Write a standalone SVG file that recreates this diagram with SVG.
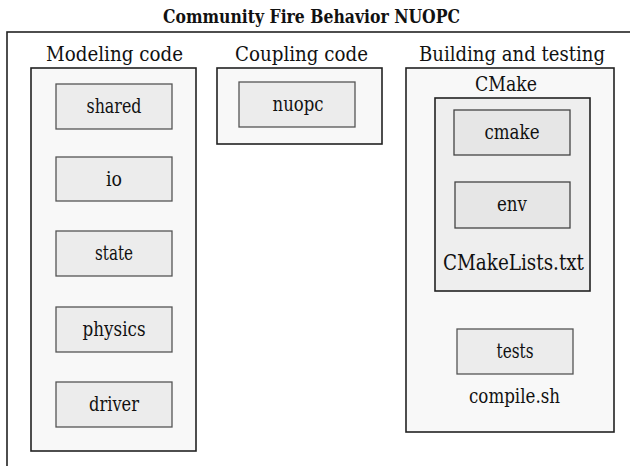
<svg xmlns="http://www.w3.org/2000/svg" width="630" height="466" viewBox="0 0 630 466">
<style>
text{font-family:'DejaVu Serif','Liberation Serif',serif;fill:#111;text-anchor:middle}
.title{font-size:18.5px;font-weight:bold}
.hdr{font-size:21px}
.lbl{font-size:20px}
.big{font-size:22.5px}
.frame{fill:#fff;stroke:#222;stroke-width:1.6}
.cl{fill:#f8f8f8;stroke:#222;stroke-width:1.6}
.cl2{fill:#eeeeee;stroke:#222;stroke-width:1.6}
.nd{fill:#ececec;stroke:#555;stroke-width:1.3}
.nd2{fill:#e6e6e6;stroke:#444;stroke-width:1.3}
</style>
<rect width="630" height="466" fill="#fff"/>
<text class="title" x="311.5" y="23" textLength="297" lengthAdjust="spacingAndGlyphs">Community Fire Behavior NUOPC</text>
<rect class="frame" x="7" y="32" width="640" height="450"/>

<g id="modeling">
<text class="hdr" x="114.5" y="61" textLength="137" lengthAdjust="spacingAndGlyphs">Modeling code</text>
<rect class="cl" x="31" y="68" width="165" height="383"/>
</g>
<g id="shared"><rect class="nd" x="56" y="84" width="116" height="45"/><text class="lbl" x="114" y="113" textLength="55" lengthAdjust="spacingAndGlyphs">shared</text></g>
<g id="io"><rect class="nd" x="56" y="157" width="116" height="44"/><text class="lbl" x="114" y="186" textLength="16" lengthAdjust="spacingAndGlyphs">io</text></g>
<g id="state"><rect class="nd" x="56" y="231" width="116" height="45"/><text class="lbl" x="114" y="260" textLength="38" lengthAdjust="spacingAndGlyphs">state</text></g>
<g id="physics"><rect class="nd" x="56" y="307" width="116" height="45"/><text class="lbl" x="114" y="336" textLength="63" lengthAdjust="spacingAndGlyphs">physics</text></g>
<g id="driver"><rect class="nd" x="56" y="382" width="116" height="45"/><text class="lbl" x="114" y="411" textLength="50" lengthAdjust="spacingAndGlyphs">driver</text></g>

<g id="coupling">
<text class="hdr" x="301.5" y="61" textLength="133" lengthAdjust="spacingAndGlyphs">Coupling code</text>
<rect class="cl" x="217" y="68" width="165" height="76"/>
</g>
<g id="nuopc"><rect class="nd" x="239" y="82" width="116" height="45"/><text class="lbl" x="298" y="111" textLength="51" lengthAdjust="spacingAndGlyphs">nuopc</text></g>

<g id="building">
<text class="hdr" x="512" y="61" textLength="186" lengthAdjust="spacingAndGlyphs">Building and testing</text>
<rect class="cl" x="406" y="68" width="208" height="364"/>
<text class="lbl" x="506" y="91" textLength="62" lengthAdjust="spacingAndGlyphs">CMake</text>
</g>
<g id="cmakegroup">
<rect class="cl2" x="435" y="98" width="155" height="193"/>
<text class="big" x="513.5" y="270" textLength="141" lengthAdjust="spacingAndGlyphs">CMakeLists.txt</text>
</g>
<g id="cmake"><rect class="nd2" x="454" y="110" width="116" height="45"/><text class="lbl" x="512" y="139" textLength="55" lengthAdjust="spacingAndGlyphs">cmake</text></g>
<g id="env"><rect class="nd2" x="455" y="182" width="115" height="46"/><text class="lbl" x="512" y="211" textLength="30" lengthAdjust="spacingAndGlyphs">env</text></g>
<g id="tests"><rect class="nd" x="457" y="329" width="116" height="45"/><text class="lbl" x="515" y="358" textLength="37" lengthAdjust="spacingAndGlyphs">tests</text></g>
<g id="compile"><text class="lbl" x="514.5" y="403" textLength="91" lengthAdjust="spacingAndGlyphs">compile.sh</text></g>
<g id="connectors"></g>
</svg>
